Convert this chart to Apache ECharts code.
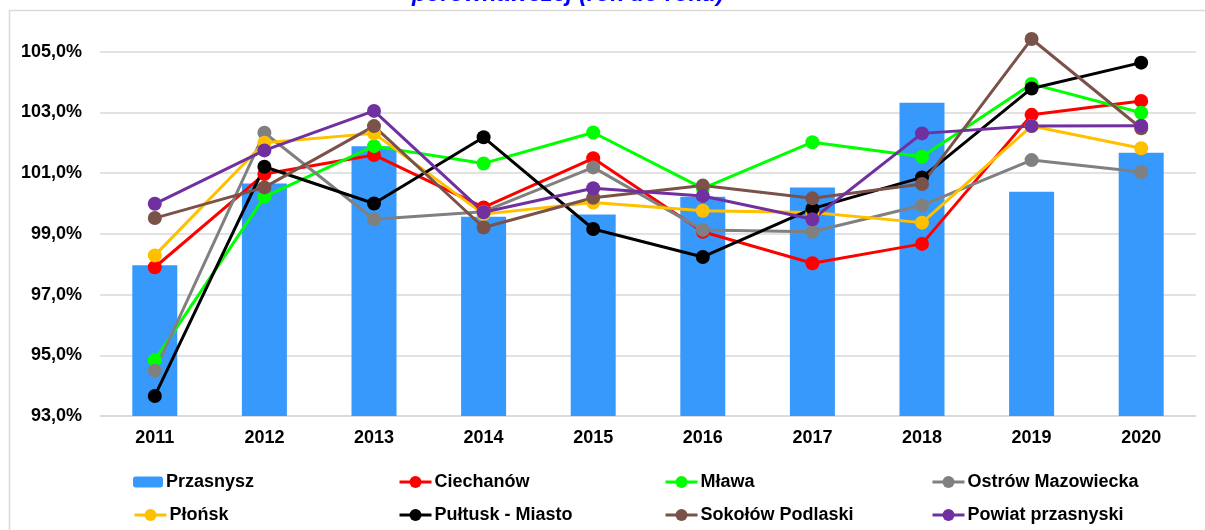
<!DOCTYPE html>
<html>
<head>
<meta charset="utf-8">
<script src="https://cdn.jsdelivr.net/npm/echarts@6/dist/echarts.min.js"></script>
<style>
  html, body { margin: 0; padding: 0; background: #fff; }
  #dyn_echarts { width: 1205px; height: 530px; }
</style>
</head>
<body>
<div id="dyn_echarts"></div>
<script>
// dane (rok do roku, %)
var lata = ['2011', '2012', '2013', '2014', '2015', '2016', '2017', '2018', '2019', '2020'];
var przasnysz = [97.97, 100.66, 101.89, 99.56, 99.64, 100.22, 100.53, 103.32, 100.39, 101.67];
var ciechanow = [97.90, 100.97, 101.60, 99.87, 101.49, 99.07, 98.03, 98.67, 102.92, 103.38];
var mlawa = [94.84, 100.22, 101.89, 101.32, 102.34, 100.50, 102.02, 101.54, 103.94, 102.99];
var ostrow = [94.49, 102.33, 99.48, 99.73, 101.19, 99.13, 99.07, 99.94, 101.43, 101.04];
var plonsk = [98.29, 102.00, 102.31, 99.65, 100.03, 99.76, 99.70, 99.37, 102.55, 101.82];
var pultusk = [93.66, 101.21, 100.00, 102.18, 99.16, 98.24, 99.83, 100.86, 103.79, 104.64];
var sokolow = [99.52, 100.53, 102.55, 99.21, 100.19, 100.59, 100.17, 100.64, 105.42, 102.48];
var powiat = [99.99, 101.75, 103.05, 99.71, 100.50, 100.25, 99.48, 102.31, 102.55, 102.56];

var nazwy = ['Przasnysz', 'Ciechanów', 'Mława', 'Ostrów Mazowiecka', 'Płońsk', 'Pułtusk - Miasto', 'Sokołów Podlaski', 'Powiat przasnyski'];
var kolory = ['#3899FD', '#FF0000', '#00FF00', '#808080', '#FFC000', '#000000', '#7B5249', '#7030A0'];

var myChart = echarts.init(document.getElementById('dyn_echarts'));

function linia(i, dane) {
    return {
        name: nazwy[i],
        type: 'line',
        data: dane,
        symbol: 'circle',
        symbolSize: 14,
        itemStyle: { color: kolory[i] },
        lineStyle: { color: kolory[i], width: 3 }
    };
}

// legenda w dwoch wierszach po cztery kolumny
var kolumny = [133, 398, 664, 931];
var wiersze = [473, 506];
var legendy = [];
for (var i = 0; i < nazwy.length; i++) {
    legendy.push({
        data: [nazwy[i]],
        left: kolumny[i % 4],
        top: wiersze[Math.floor(i / 4)],
        padding: 0,
        itemWidth: i === 0 ? 30 : 32,
        itemHeight: i === 0 ? 11 : 15,
        itemGap: 0,
        selectedMode: false,
        lineStyle: { width: 3 },
        textStyle: { fontFamily: 'Liberation Sans', fontWeight: 'bold', fontSize: 18, color: '#000', padding: [0, 0, 0, -2] }
    });
}

var option = {
    animation: false,
    backgroundColor: '#fff',
    graphic: [
        {
            type: 'rect',
            shape: { x: 9.5, y: 10.5, width: 1200, height: 530 },
            style: { fill: 'none', stroke: '#D9D9D9', lineWidth: 1.5 },
            silent: true
        },
        {
            // reszta tytulu jest ucieta nad wykresem
            type: 'text',
            x: 568,
            y: 6,
            style: {
                text: 'porównawczej (rok do roku)',
                fill: '#0000FF',
                font: 'italic bold 23.5px "Liberation Sans"',
                align: 'center',
                verticalAlign: 'bottom'
            },
            silent: true
        }
    ],
    legend: legendy,
    grid: {
        left: 100,
        right: 9,
        top: -9,
        bottom: 114,
        outerBoundsMode: 'none'
    },
    xAxis: {
        type: 'category',
        data: lata,
        axisTick: { show: false },
        axisLine: { lineStyle: { color: '#D9D9D9', width: 1.5 } },
        axisLabel: { fontFamily: 'Liberation Sans', fontWeight: 'bold', fontSize: 18, color: '#000', margin: 13 }
    },
    yAxis: {
        type: 'value',
        min: 93,
        max: 107,
        interval: 2,
        axisLine: { show: false },
        axisTick: { show: false },
        splitLine: { lineStyle: { color: '#D9D9D9', width: 1.5 } },
        axisLabel: {
            fontFamily: 'Liberation Sans',
            fontWeight: 'bold',
            fontSize: 18,
            color: '#000',
            margin: 18,
            formatter: function (v) {
                if (v > 106) return '';
                return v.toFixed(1).replace('.', ',') + '%';
            }
        }
    },
    series: [
        {
            name: nazwy[0],
            type: 'bar',
            data: przasnysz,
            barWidth: 45,
            itemStyle: { color: kolory[0] }
        },
        linia(1, ciechanow),
        linia(2, mlawa),
        linia(3, ostrow),
        linia(4, plonsk),
        linia(5, pultusk),
        linia(6, sokolow),
        linia(7, powiat)
    ]
};

myChart.setOption(option, true);
</script>
</body>
</html>
